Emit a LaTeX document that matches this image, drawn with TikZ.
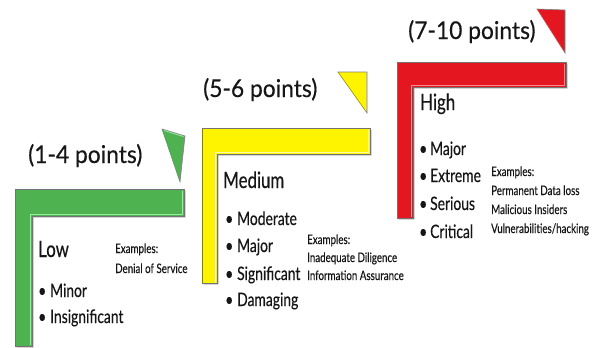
\documentclass[tikz,border=0pt]{standalone}
\usepackage{fontspec}
\setmainfont{Lato}[FakeStretch=0.75, FakeBold=0.3]
\newfontfamily\headfont{Lato}[FakeStretch=0.93, FakeBold=0.35]

\definecolor{lowgreen}{RGB}{78,178,80}
\definecolor{lowlight}{RGB}{150,235,165}
\definecolor{medyellow}{RGB}{255,244,0}
\definecolor{medlight}{RGB}{255,255,170}
\definecolor{hired}{RGB}{228,22,32}
\definecolor{hilight}{RGB}{250,140,140}
\definecolor{ink}{RGB}{22,22,22}

% L-shaped step: #1 fill, #2 highlight, #3 left x, #4 top y, #5 right x,
% #6 inner x, #7 inner y, #8 bottom y
\newcommand\riskstep[8]{%
  \fill[black!25] (#3+1.5,#8+1.5) -- (#3+1.5,#4+1.5) -- (#5+1.5,#4+1.5)
     -- (#5+1.5,#7+1.5) -- (#6+1.5,#7+1.5) -- (#6+1.5,#8+1.5) -- cycle;
  \filldraw[fill=#1, draw=black!55, line width=0.7pt]
     (#3,#8) -- (#3,#4) -- (#5,#4) -- (#5,#7) -- (#6,#7) -- (#6,#8) -- cycle;
  \draw[#2, line width=0.9pt] (#5-1.2,#4+1.5) -- (#5-1.2,#7-1.2)
     -- (#6-1.2,#7-1.2) -- (#6-1.2,#8-1.2);
}

\tikzset{
  x=1pt, y=-1pt,
  marker/.style={line width=0.6pt, draw=black!50, line join=miter},
  head/.style={anchor=base west, inner sep=0pt, text=ink,
    font=\headfont\fontsize{24.5}{28}\selectfont},
  level/.style={anchor=base west, inner sep=0pt, text=ink,
    font=\fontsize{22.5}{26}\selectfont},
  item/.style={anchor=base west, inner sep=0pt, text=ink,
    font=\fontsize{18.5}{22}\selectfont},
  ex/.style={anchor=base west, inner sep=0pt, text=ink,
    font=\fontsize{13}{15}\selectfont},
}
\newcommand\blt[1]{\makebox[#1][l]{\textbullet}}

\begin{document}
\begin{tikzpicture}
\useasboundingbox (0,0) rectangle (597,348);
\fill[white] (0,0) rectangle (597,348);

% steps
\riskstep{lowgreen}{lowlight}{15}{189}{184}{32}{216}{346}
\riskstep{medyellow}{medlight}{202}{128}{370}{217}{154}{283}
\riskstep{hired}{hilight}{397}{62}{566}{413}{87}{218}

% corner markers
\filldraw[marker, fill=lowgreen] (162,129) -- (185,136) -- (180,182) -- cycle;
\draw[lowlight, line width=0.8pt] (164,130.5) -- (183.5,136.5);
\filldraw[marker, fill=medyellow] (338,72) -- (367,72) -- (367,113) -- cycle;
\filldraw[marker, fill=hired] (537,9) -- (565,10) -- (565,53) -- cycle;

% headings
\node[head] (lowhead) at (28,163) {(1-4 points)};
\node[head] (medhead) at (203,97) {(5-6 points)};
\node[head] (hihead) at (408,39) {(7-10 points)};

% levels
\node[level] (lowlvl) at (38,257) {Low};
\node[level] (medlvl) at (223,188) {Medium};
\node[level] (hilvl) at (420,110) {High};

% low items
\node[item] (low1) at (38,297) {\blt{12pt}Minor};
\node[item] (low2) at (38,323) {\blt{12pt}Insignificant};
\node[ex] (lowex0) at (115,253) {Examples:};
\node[ex] (lowex1) at (115,273) {Denial of Service};

% medium items
\node[item] (med1) at (225,225) {\blt{12pt}Moderate};
\node[item] (med2) at (225,252) {\blt{12pt}Major};
\node[item] (med3) at (225,280) {\blt{12pt}Significant};
\node[item] (med4) at (225,306) {\blt{12pt}Damaging};
\node[ex] (medex0) at (307,244) {Examples:};
\node[ex] (medex1) at (307,262) {Inadequate Diligence};
\node[ex] (medex2) at (307,280) {Information Assurance};

% high items
\node[item] (hi1) at (419,155) {\blt{11pt}Major};
\node[item] (hi2) at (419,182) {\blt{11pt}Extreme};
\node[item] (hi3) at (419,210) {\blt{11pt}Serious};
\node[item] (hi4) at (419,238) {\blt{11pt}Critical};
\node[ex] (hiex0) at (491,176) {Examples:};
\node[ex] (hiex1) at (491,195) {Permanent Data loss};
\node[ex] (hiex2) at (491,214) {Malicious Insiders};
\node[ex] (hiex3) at (491,233) {Vulnerabilities/hacking};
\end{tikzpicture}
\end{document}
